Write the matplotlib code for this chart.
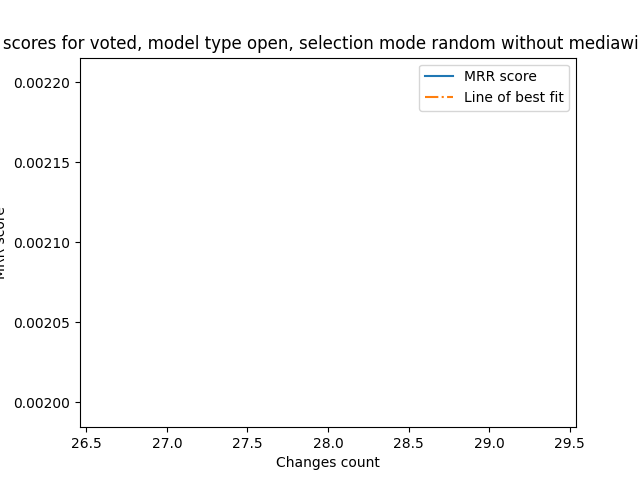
import matplotlib
matplotlib.use("Agg")
import matplotlib.pyplot as plt

changes_count = [28]
mrr_scores = [0.0021]
best_fit = [0.0021]

fig, ax = plt.subplots(figsize=(6.4, 4.8), dpi=100)
ax.plot(changes_count, mrr_scores, label="MRR score")
ax.plot(changes_count, best_fit, linestyle="-.", label="Line of best fit")
ax.set_title("MRR scores for voted, model type open, selection mode random without mediawiki data")
ax.set_xlabel("Changes count")
ax.set_ylabel("MRR score")
ax.legend()
fig.savefig("out.png")
